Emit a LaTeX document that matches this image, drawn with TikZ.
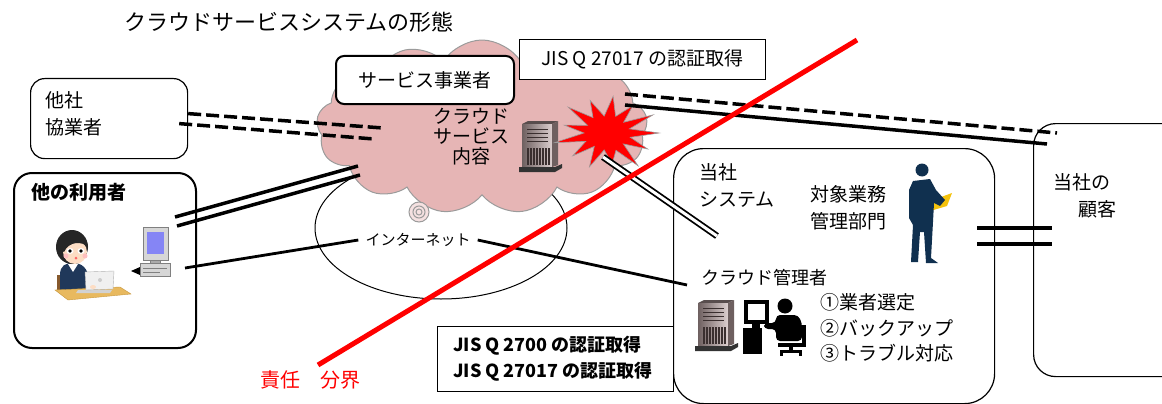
\documentclass[tikz,border=0pt]{standalone}
\usepackage{fontspec}
\setmainfont{Noto Sans CJK JP}
\usepackage{tikz}
\usetikzlibrary{positioning,calc,shapes.symbols,shapes.geometric}
\definecolor{cloudfill}{HTML}{E6B5B5}
\definecolor{cloudedge}{HTML}{9B9B9B}
\definecolor{bound}{HTML}{FF0000}
\definecolor{navy}{HTML}{10304F}
\definecolor{paper}{HTML}{F4C20D}
\definecolor{suit}{HTML}{20385A}
\definecolor{skin}{HTML}{FDDDC4}
\definecolor{desk}{HTML}{E8B95F}
\definecolor{deskedge}{HTML}{C8983F}
\definecolor{pcgray}{HTML}{D6D6D6}
\definecolor{screen}{HTML}{8585F5}
\definecolor{srvlight}{HTML}{DCCFCF}
\definecolor{srvdark}{HTML}{6E6060}
\definecolor{srvline}{HTML}{3A2F2F}
\tikzset{
  rbox/.style={draw,line width=1.2pt,rounded corners=14pt,anchor=north west,inner sep=0pt},
  tbox/.style={draw,line width=0.8pt,anchor=north west,inner sep=0pt},
  lab/.style={font=\fontsize{19}{27}\selectfont,align=left,inner sep=0pt},
  dline/.style={line width=3.5pt,dash pattern=on 13pt off 5pt},
  sline/.style={line width=3.5pt},
  tline/.style={line width=2.8pt},
  dbl/.style={draw=black,double=white,line width=1.8pt,double distance=3pt},
  server/.pic={
    \fill[srvdark!80!black] (0,3) -- (6,0) -- (36,0) -- (30,3) -- cycle;
    \shade[left color=srvdark,right color=srvlight] (0,3) rectangle (30,46);
    \fill[srvdark] (30,3) -- (36,0) -- (36,44) -- (30,46) -- cycle;
    \foreach \yy in {8,12,16,20} \draw[srvline,line width=0.8pt] (5,\yy) -- (26,\yy);
    \foreach \xx in {6,9,...,27} \draw[srvline,line width=1.2pt] (\xx,27) -- (\xx,44);
    \fill[black!80] (-3,46) -- (33,46) -- (40,43) -- (40,47) -- (33,51) -- (-3,51) -- cycle;
  },
  pcuser/.pic={
    \draw[line width=3.5pt] (6,4) rectangle (27,24);
    \fill (12,24) rectangle (20,30);
    \fill (3,30) rectangle (22,56);
    \fill (45,8) circle (7.5pt);
    \fill[rounded corners=4pt] (36,17) -- (58,17) -- (62,25) -- (62,43) -- (36,43) -- (36,31) -- (24,31) -- (24,25) -- (36,25) -- cycle;
    \fill (38,45) rectangle (64,49);
    \fill (62,27) rectangle (66,49);
    \fill (49,49) rectangle (53,53);
    \fill (40,52) rectangle (62,55);
    \fill (40,52) rectangle (43,58);
    \fill (59,52) rectangle (62,58);
  },
  desktop/.pic={
    \fill[black] (-9,44) -- (0,40) -- (0,48) -- cycle;
    \filldraw[fill=pcgray,draw=gray] (0,36) rectangle (30,49);
    \draw[gray] (3,41) -- (27,41) (3,45) -- (20,45);
    \filldraw[fill=pcgray!80!black,draw=gray] (10,32) rectangle (20,36);
    \filldraw[fill=pcgray,draw=gray] (3,0) rectangle (28,33);
    \fill[screen] (7,5) rectangle (24,27);
  },
  woman/.pic={
    \fill[brown!70!black] (2,45) rectangle (8,62);
    \fill[suit] (5,62) -- (5,45) .. controls (5,35) and (11,33) .. (18,33) .. controls (27,33) and (33,38) .. (34,50) -- (40,55) -- (38,62) -- cycle;
    \fill[white] (13,34) -- (23,34) -- (18,42) -- cycle;
    \fill[black!85] (17,17) ellipse (16pt and 17pt);
    \fill[skin] (20,22) ellipse (12pt and 12pt);
    \fill[black!85] (6,20) .. controls (6,3) and (32,2) .. (33,17) .. controls (27,11) and (14,11) .. (9,22) -- cycle;
    \foreach \ex in {15,26} {\fill[white] (\ex,21) ellipse (3.5pt and 3pt); \fill[black] (\ex,21) circle (1.8pt);}
    \fill[red!25] (11,26) circle (2.5pt) (30,26) circle (2.5pt);
    \fill[red!60] (21,28) circle (1.5pt);
    \filldraw[fill=desk,draw=deskedge] (0,60) -- (65,57) -- (76,64) -- (13,70) -- cycle;
    \fill[gray!35] (23,60) -- (57,60) -- (55,63) -- (21,63) -- cycle;
    \filldraw[fill=gray!12,draw=gray!60] (30,42) -- (59,41) -- (58,59) -- (31,60) -- cycle;
    \fill[gray!40] (45,50) circle (2pt);
    \fill[skin] (38,57) ellipse (3pt and 2pt);
  },
  silhouette/.pic={
    \fill[paper] (11,30) -- (30,23) -- (25,36) -- (8,41) -- cycle;
    \fill[navy] (0,0) circle (6.5pt);
    \fill[navy] (-9,11) -- (8,9) -- (14,20) -- (23,30) -- (18,36) -- (12,33) -- (11,52) -- (9,88) -- (16,93) -- (4,93) -- (2,62) -- (-2,62) -- (-4,92) -- (-11,92) -- (-9,55) -- (-13,48) -- (-13,20) -- cycle;
  },
}
\begin{document}
\begin{tikzpicture}[x=1pt,y=-1pt]
\useasboundingbox (0,0) rectangle (1162,404);

\node[font=\fontsize{22}{24}\selectfont,anchor=west,inner sep=0pt] (title) at (124,22) {クラウドサービスシステムの形態};

% internet and the service cloud
\node[draw,ellipse,line width=1pt,minimum width=252pt,minimum height=142pt] (net) at (441,228) {};
\node[cloud,cloud puffs=13,cloud puff arc=115,aspect=2,draw=cloudedge,fill=cloudfill,line width=1pt,minimum width=331pt,minimum height=174pt] (cld) at (482,127) {};
\node[circle,draw=cloudedge,fill=cloudfill!40,line width=1pt,minimum size=20pt,inner sep=0pt] (hub) at (419,212) {};
\draw[cloudedge,line width=1pt] (hub.center) circle (6pt) circle (3pt);
\node[font=\fontsize{15}{18}\selectfont,inner sep=7pt] (netlab) at (418,240) {インターネット};

\node[rbox,line width=2pt,rounded corners=8pt,fill=white,minimum width=178pt,minimum height=48pt,font=\fontsize{19}{22}\selectfont] (jigyo) at (335,55) {サービス事業者};
\node[tbox,fill=white,minimum width=246pt,minimum height=40pt,font=\fontsize{19}{20}\selectfont] (jisa) at (519,39) {JIS Q 27017 の認証取得};
\node[lab,align=center,font=\fontsize{19}{20}\selectfont] (naiyo) at (471,137) {クラウド\\サービス\\内容};
\pic at (522,121) {server};

% burst
\begin{scope}[shift={(607,133)},yscale=0.74]
  \fill[bound,draw=cloudedge,line width=0.6pt] (0:52) \foreach \a/\r/\b/\s in {14/24/28/46,42/22/55/54,69/25/83/42,97/23/111/49,125/22/138/46,152/24/166/54,180/23/194/44,208/22/222/52,236/25/249/47,263/23/277/50,291/24/305/45,319/22/332/52,346/23/360/52} { -- (\a:\r) -- (\b:\s) } -- cycle;
\end{scope}

% boxes
\node[rbox,minimum width=157pt,minimum height=80pt] (kyogyo) at (30,78) {};
\node[lab,anchor=west] (kyogyoT) at (45,114) {他社\\協業者};
\node[rbox,line width=2pt,rounded corners=18pt,minimum width=182pt,minimum height=175pt] (riyo) at (13,172) {};
\node[lab,font=\fontsize{19}{27}\selectfont\bfseries,anchor=west] (riyoT) at (31,192) {他の利用者};
\pic at (55,230) {woman};
\pic at (140,227) {desktop};
\node[rbox,rounded corners=30pt,minimum width=321pt,minimum height=255pt] (sys) at (673,148) {};
\node[lab,anchor=west] (sysT) at (699,185) {当社\\システム};
\node[lab,anchor=west] (taisho) at (810,208) {対象業務\\管理部門};
\pic at (922,170) {silhouette};
\node[lab,anchor=west,font=\fontsize{18}{22}\selectfont] (admin) at (701,278) {クラウド管理者};
\pic at (698,300) {server};
\pic at (740,298) {pcuser};
\node[lab,anchor=west,font=\fontsize{19}{25.5}\selectfont] (tasks) at (820,328) {①業者選定\\②バックアップ\\③トラブル対応};
\node[rbox,rounded corners=22pt,minimum width=160pt,minimum height=253pt] (kokyaku) at (1033,123) {};
\node[lab,anchor=west] (kokyakuT) at (1053,196) {当社の\\\hspace*{25pt}顧客};
\node[tbox,fill=white,minimum width=236pt,minimum height=65pt] (jisb) at (437,326) {};
\node[lab,font=\fontsize{18}{26}\selectfont\bfseries,anchor=west] (jisbT) at (453,359) {JIS Q 2700 の認証取得\\JIS Q 27017 の認証取得};

% connections
\coordinate (kyB1) at (383,128);
\coordinate (kyB2) at (374,139);
\coordinate (ryA1) at (175,217);
\coordinate (ryB1) at (358,166);
\coordinate (ryA2) at (177,226);
\coordinate (ryB2) at (360,175);
\coordinate (pcport) at (185,268);
\coordinate (stA) at (603,157);
\coordinate (stB) at (717,236);
\coordinate (upA1) at (625,94);
\coordinate (upB1) at (1057,133);
\coordinate (upA2) at (625,105);
\coordinate (upB2) at (1047,144);
\draw[dline] ($(kyogyo.east)+(0,-5)$) -- (kyB1);
\draw[dline] ($(kyogyo.east)+(-9,5)$) -- (kyB2);
\draw[sline] (ryA1) -- (ryB1);
\draw[sline] (ryA2) -- (ryB2);
\draw[tline] (pcport) -- (netlab.west);
\draw[tline] (netlab.east) -- ($(admin.west)+(-14,7)$);
\draw[dbl] (stA) -- (stB);
\draw[dline] (upA1) -- (upB1);
\draw[sline] (upA2) -- (upB2);
\draw[sline] ($(sys.east)+(-18,-48)$) -- ($(kokyaku.west)+(19,-22)$);
\draw[sline] ($(sys.east)+(-18,-32)$) -- ($(kokyaku.west)+(19,-6)$);

% responsibility boundary
\coordinate (bdA) at (318,365);
\coordinate (bdB) at (857,40);
\draw[bound,line width=5pt] (bdA) -- (bdB);
\node[lab,text=bound,font=\fontsize{20}{24}\selectfont,anchor=west] (bdT) at (260,380) {責任　分界};
\end{tikzpicture}
\end{document}
